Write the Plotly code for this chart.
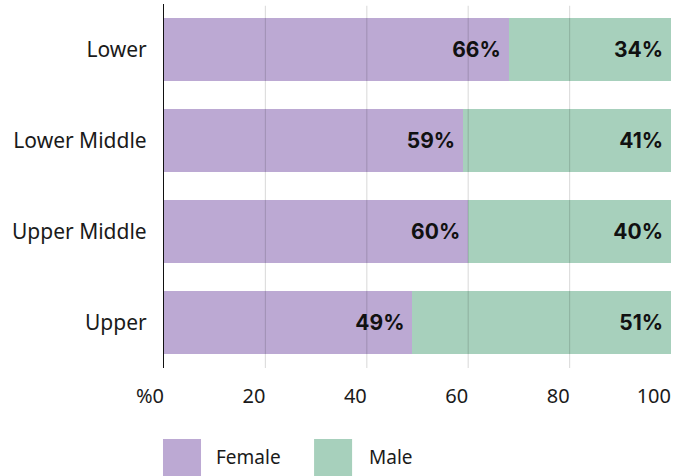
import plotly.graph_objects as go

categories = ["Lower", "Lower Middle", "Upper Middle", "Upper"]
female_pct = [68, 59, 60, 49]
male_pct = [32, 41, 40, 51]
female_labels = ["66%", "59%", "60%", "49%"]
male_labels = ["34%", "41%", "40%", "51%"]
tick_vals = [0, 20, 40, 60, 80, 100]
tick_text = ["%0", "20", "40", "60", "80", "100"]
grid_vals = [20, 40, 60, 80]
series_names = ["Female", "Male"]

FEMALE_COLOR = "#BCA9D3"
MALE_COLOR = "#A7D0BC"
LABEL_FONT = dict(family="Inter", size=21, color="#111111", weight="bold")
TICK_FONT = dict(family="Noto Sans", size=20, color="#1a1a1a")
CAT_FONT = dict(family="Noto Sans", size=21, color="#1a1a1a")

fig = go.Figure()
fig.add_trace(go.Bar(
    y=categories, x=female_pct, orientation="h", name=series_names[0],
    marker=dict(color=FEMALE_COLOR, line=dict(width=0)),
    text=[t + "\u00a0" for t in female_labels], textposition="inside",
    insidetextanchor="end", textfont=LABEL_FONT, textangle=0,
    hoverinfo="skip",
))
fig.add_trace(go.Bar(
    y=categories, x=male_pct, orientation="h", name=series_names[1],
    marker=dict(color=MALE_COLOR, line=dict(width=0)),
    text=[t + "\u00a0" for t in male_labels], textposition="inside",
    insidetextanchor="end", textfont=LABEL_FONT, textangle=0,
    hoverinfo="skip",
))

for g in grid_vals:
    fig.add_shape(type="line", xref="x", yref="paper", x0=g, x1=g, y0=0, y1=0.995,
                  line=dict(color="rgba(0,0,0,0.13)", width=1.2), layer="above")

# custom legend
legend_items = [(series_names[0], FEMALE_COLOR, -0.002, 0.073, 0.0986),
                (series_names[1], MALE_COLOR, 0.296, 0.371, 0.4004)]
for name, col, x0, x1, tx in legend_items:
    fig.add_shape(type="rect", xref="paper", yref="paper", x0=x0, x1=x1,
                  y0=-0.2967, y1=-0.195, fillcolor=col, line=dict(width=0))
    fig.add_annotation(xref="paper", yref="paper", x=tx, y=-0.2445, text=name,
                       showarrow=False, xanchor="left", yanchor="middle",
                       font=dict(family="Noto Sans", size=19, color="#1a1a1a"))

fig.update_layout(
    barmode="stack",
    bargap=0.308,
    width=688, height=476,
    margin=dict(l=164, r=17, t=4, b=108),
    plot_bgcolor="white", paper_bgcolor="white",
    showlegend=False,
    font=TICK_FONT,
)
fig.update_xaxes(
    range=[0, 100], tickvals=tick_vals, ticktext=tick_text,
    showgrid=False, zeroline=False, showline=False,
    ticks="", ticklabelstandoff=14,
    ticklabelposition="outside left", tickfont=TICK_FONT, fixedrange=True,
)
fig.update_yaxes(
    autorange="reversed", showgrid=False, zeroline=False,
    showline=True, linecolor="#111111", linewidth=1.2,
    ticks="outside", ticklen=12, tickcolor="rgba(0,0,0,0)",
    tickfont=CAT_FONT, fixedrange=True,
)

fig.write_html("out.html")
